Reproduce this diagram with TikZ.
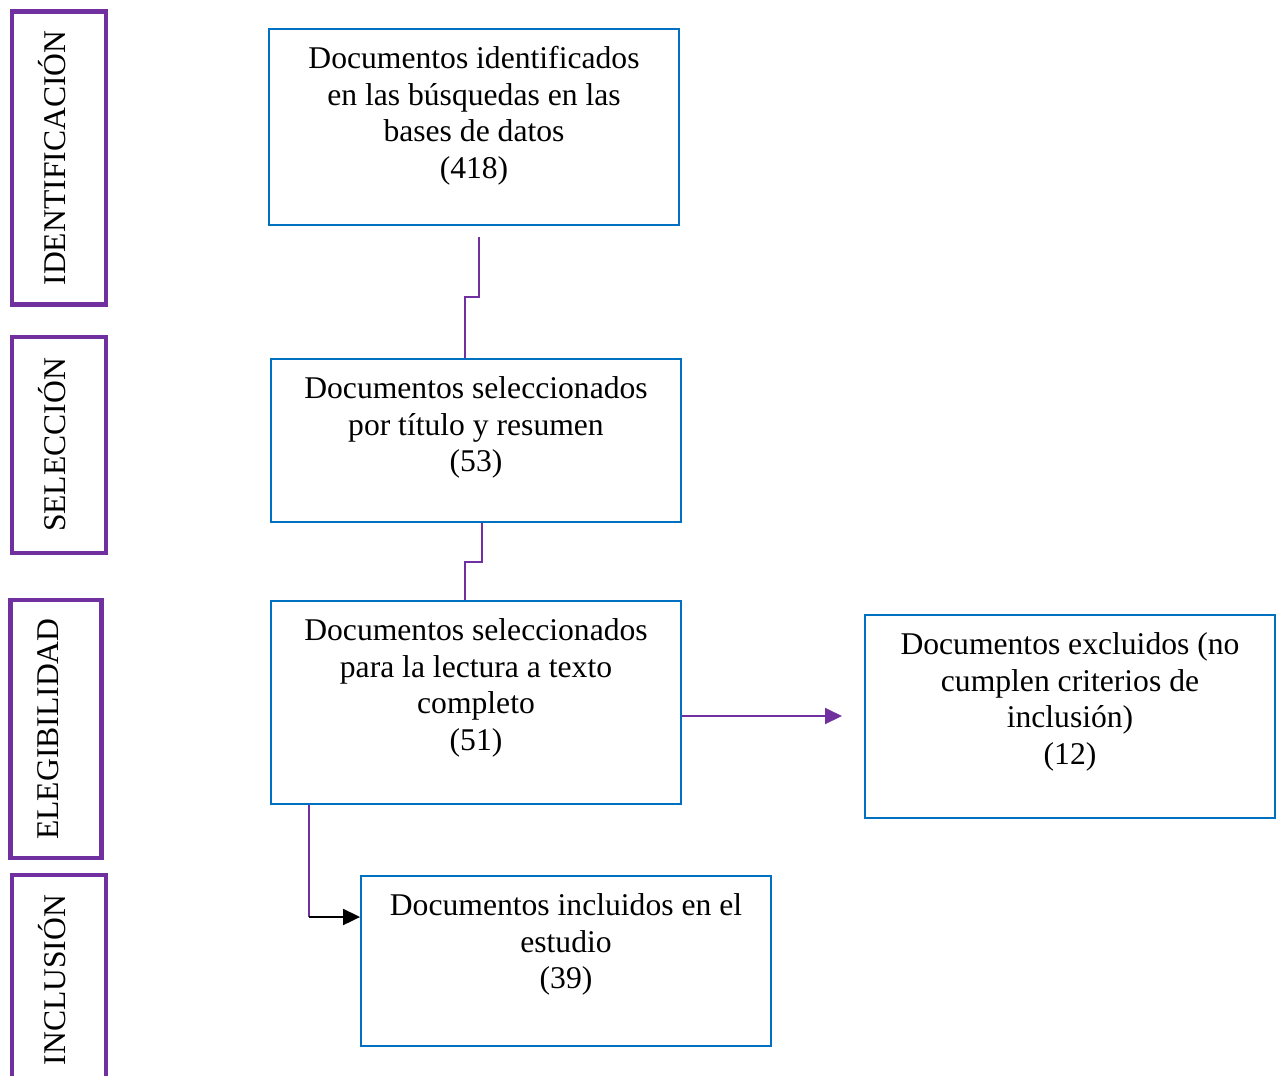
\documentclass[tikz,border=0pt]{standalone}
\usepackage{fontspec}
\setmainfont{Liberation Serif}
\usetikzlibrary{arrows.meta}
\definecolor{morado}{RGB}{112,48,160}
\definecolor{azul}{RGB}{0,112,192}
\begin{document}
\begin{tikzpicture}[x=0.02cm,y=-0.02cm,
		caja/.style={draw=azul,line width=1.1pt,text width=7.8cm,inner xsep=0.2cm,inner ysep=0pt,align=flush center,anchor=north,text height=0.79cm,font=\fontsize{18}{20.9}\selectfont},
		fase/.style={draw=morado,line width=2.6pt,rotate=90,inner sep=0pt,text depth=0.3cm,font=\fontsize{18}{20.9}\selectfont},
		conector/.style={draw=morado,line width=1.1pt},
		flecha/.style={line width=1.1pt,-{Triangle[length=0.34cm,width=0.32cm]}}]
				\useasboundingbox (0,0) rectangle (1280,1075);
				\node[fase,minimum width=5.86cm,minimum height=1.88cm] (fase1) at (59,158) {IDENTIFICACIÓN};
				\node[fase,minimum width=4.32cm,minimum height=1.88cm] (fase2) at (59,445) {SELECCIÓN};
				\node[fase,minimum width=5.16cm,minimum height=1.82cm] (fase3) at (56,729) {ELEGIBILIDAD};
				\node[fase,minimum width=4.2cm,minimum height=1.88cm] (fase4) at (59,980) {INCLUSIÓN};
				\node[caja,text depth=3.14cm] (ident) at (474,28) {Documentos identificados\\en las búsquedas en las\\bases de datos\\(418)};
				\node[caja,text depth=2.48cm] (selec) at (476,358) {Documentos seleccionados\\por título y resumen\\(53)};
				\node[caja,text depth=3.28cm] (eleg) at (476,600) {Documentos seleccionados\\para la lectura a texto\\completo\\(51)};
				\node[caja,text depth=3.28cm] (excl) at (1070,614) {Documentos excluidos (no\\cumplen criterios de\\inclusión)\\(12)};
				\node[caja,text depth=2.62cm] (incl) at (566,875) {Documentos incluidos en el\\estudio\\(39)};
				\coordinate (c1) at (479,237);
				\coordinate (c2) at (842,716);
				\coordinate (c3) at (309,917);
				\draw[conector] (c1) -- (479,297) -| ([xshift=-0.22cm]selec.north);
				\draw[conector] ([xshift=0.12cm]selec.south) -- ++(0,39) -| ([xshift=-0.22cm]eleg.north);
				\draw[conector,flecha,morado] (eleg.east |- c2) -- (c2);
				\draw[conector] (eleg.south -| c3) -- (c3);
				\draw[flecha,black] (c3) -- (incl.west |- c3);
			\end{tikzpicture}
\end{document}
